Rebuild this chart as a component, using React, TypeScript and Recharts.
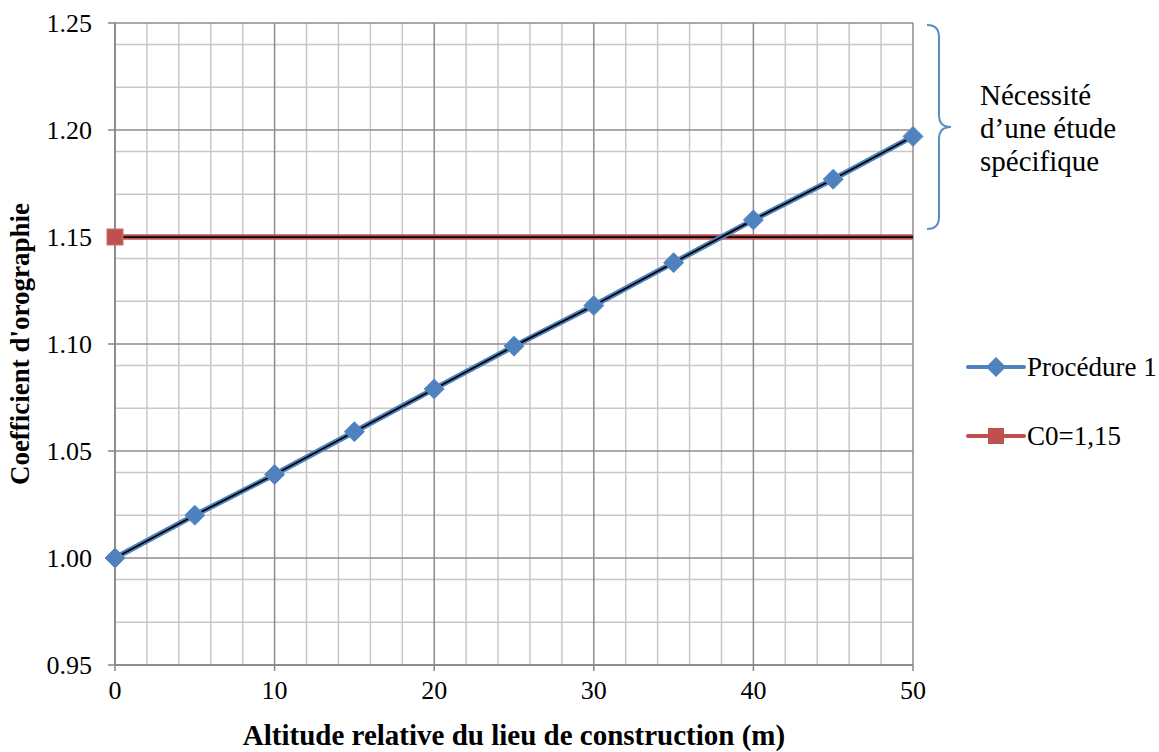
import { CartesianGrid, Label, Line, LineChart, XAxis, YAxis } from "recharts"

const altitudes = [0, 5, 10, 15, 20, 25, 30, 35, 40, 45, 50]
const procedure1 = [1.0, 1.02, 1.039, 1.059, 1.079, 1.099, 1.118, 1.138, 1.158, 1.177, 1.197]
const c0Values = [1.15, 1.15, 1.15, 1.15, 1.15, 1.15, 1.15, 1.15, 1.15, 1.15, 1.15]

const xTicks = [0, 10, 20, 30, 40, 50]
const yTicks = [0.95, 1.0, 1.05, 1.1, 1.15, 1.2, 1.25]
const xMinor = [2, 4, 6, 8, 12, 14, 16, 18, 22, 24, 26, 28, 32, 34, 36, 38, 42, 44, 46, 48]
const yMinor = [0.96, 0.97, 0.98, 0.99, 1.01, 1.02, 1.03, 1.04, 1.06, 1.07, 1.08, 1.09, 1.11, 1.12, 1.13, 1.14, 1.16, 1.17, 1.18, 1.19, 1.21, 1.22, 1.23, 1.24]

const BLUE = "#4f81bd"
const RED = "#c0504d"
const FONT = "'Times New Roman', 'Liberation Serif', serif"

const data = altitudes.map((x, i) => ({ x, p1: procedure1[i], c0: c0Values[i] }))

const Diamond = (props: any) => {
  const { cx, cy } = props
  if (cx == null || cy == null) return null
  const r = 10
  return (
    <path
      d={`M${cx},${cy - r} L${cx + r},${cy} L${cx},${cy + r} L${cx - r},${cy} Z`}
      fill={BLUE}
      stroke="#5b8cc8"
      strokeWidth={1}
    />
  )
}

const FirstSquare = (props: any) => {
  const { cx, cy, index } = props
  if (index !== 0 || cx == null) return <g />
  return <rect x={cx - 8} y={cy - 8} width={16} height={16} fill={RED} stroke="#d06a67" strokeWidth={1} />
}

const legendItems = [
  { name: "Procédure 1", color: BLUE, marker: "diamond", top: 352 },
  { name: "C0=1,15", color: RED, marker: "square", top: 421 },
]

export default function App() {
  return (
    <div style={{ position: "absolute", left: 0, top: 0, width: 1159, height: 752, background: "#fff" }}>
      <LineChart
        width={1159}
        height={752}
        data={data}
        margin={{ top: 23, right: 246, bottom: 57, left: 55 }}
      >
        <CartesianGrid
          stroke="#c8c8c8"
          strokeWidth={1.5}
          horizontalValues={yMinor}
          verticalValues={xMinor}
        />
        <CartesianGrid
          stroke="#8c8c8c"
          strokeWidth={1.5}
          horizontalValues={yTicks}
          verticalValues={xTicks}
        />
        <XAxis
          dataKey="x"
          type="number"
          domain={[0, 50]}
          ticks={xTicks}
          stroke="#868686"
          strokeWidth={1.5}
          tickSize={6}
          tick={{ fill: "#000", fontSize: 26, fontFamily: FONT }}
          tickMargin={10}
        >
          <Label
            value="Altitude relative du lieu de construction (m)"
            position="bottom"
            offset={29}
            style={{ fill: "#000", fontSize: 29, fontWeight: "bold", fontFamily: FONT }}
          />
        </XAxis>
        <YAxis
          type="number"
          domain={[0.95, 1.25]}
          ticks={yTicks}
          width={60}
          stroke="#868686"
          strokeWidth={1.5}
          tickSize={7}
          tickMargin={16}
          tickFormatter={(v: number) => v.toFixed(2)}
          tick={{ fill: "#000", fontSize: 26, fontFamily: FONT }}
        >
          <Label
            value="Coefficient d'orographie"
            angle={-90}
            position="insideLeft"
            offset={-36}
            style={{ fill: "#000", fontSize: 27, fontWeight: "bold", fontFamily: FONT, textAnchor: "middle" }}
          />
        </YAxis>
        <Line
          dataKey="c0"
          name="C0=1,15"
          stroke={RED}
          strokeWidth={5.5}
          dot={<FirstSquare />}
          activeDot={false}
          isAnimationActive={false}
        />
        <Line
          dataKey="c0"
          legendType="none"
          stroke="#000"
          strokeWidth={1.75}
          dot={false}
          activeDot={false}
          isAnimationActive={false}
        />
        <Line
          dataKey="p1"
          name="Procédure 1"
          stroke={BLUE}
          strokeWidth={5.5}
          dot={<Diamond />}
          activeDot={false}
          isAnimationActive={false}
        />
        <Line
          dataKey="p1"
          legendType="none"
          stroke="#000"
          strokeWidth={1.75}
          dot={false}
          activeDot={false}
          isAnimationActive={false}
        />
      </LineChart>
      {legendItems.map((it) => (
        <div
          key={it.name}
          style={{
            position: "absolute",
            left: 965,
            top: it.top,
            height: 30,
            display: "flex",
            alignItems: "center",
            fontFamily: FONT,
            fontSize: 27,
            color: "#000",
            whiteSpace: "nowrap",
          }}
        >
          <svg width={62} height={30}>
            <line x1={3} y1={15} x2={59} y2={15} stroke={it.color} strokeWidth={4} strokeLinecap="round" />
            {it.marker === "diamond" ? (
              <path d="M31,5 L41,15 L31,25 L21,15 Z" fill={it.color} />
            ) : (
              <rect x={23} y={7} width={16} height={16} fill={it.color} />
            )}
          </svg>
          <span>{it.name}</span>
        </div>
      ))}
      <svg style={{ position: "absolute", left: 920, top: 20 }} width={40} height={215}>
        <path
          d="M7,5 Q19,5 19,17 L19,95 Q19,107 31,107 Q19,107 19,119 L19,197 Q19,209 7,209"
          fill="none"
          stroke="#5b8cc8"
          strokeWidth={2}
        />
      </svg>
      <div
        style={{
          position: "absolute",
          left: 980,
          top: 79,
          fontFamily: FONT,
          fontSize: 29,
          lineHeight: "33px",
          color: "#000",
        }}
      >
        Nécessité
        <br />
        d’une étude
        <br />
        spécifique
      </div>
    </div>
  )
}
